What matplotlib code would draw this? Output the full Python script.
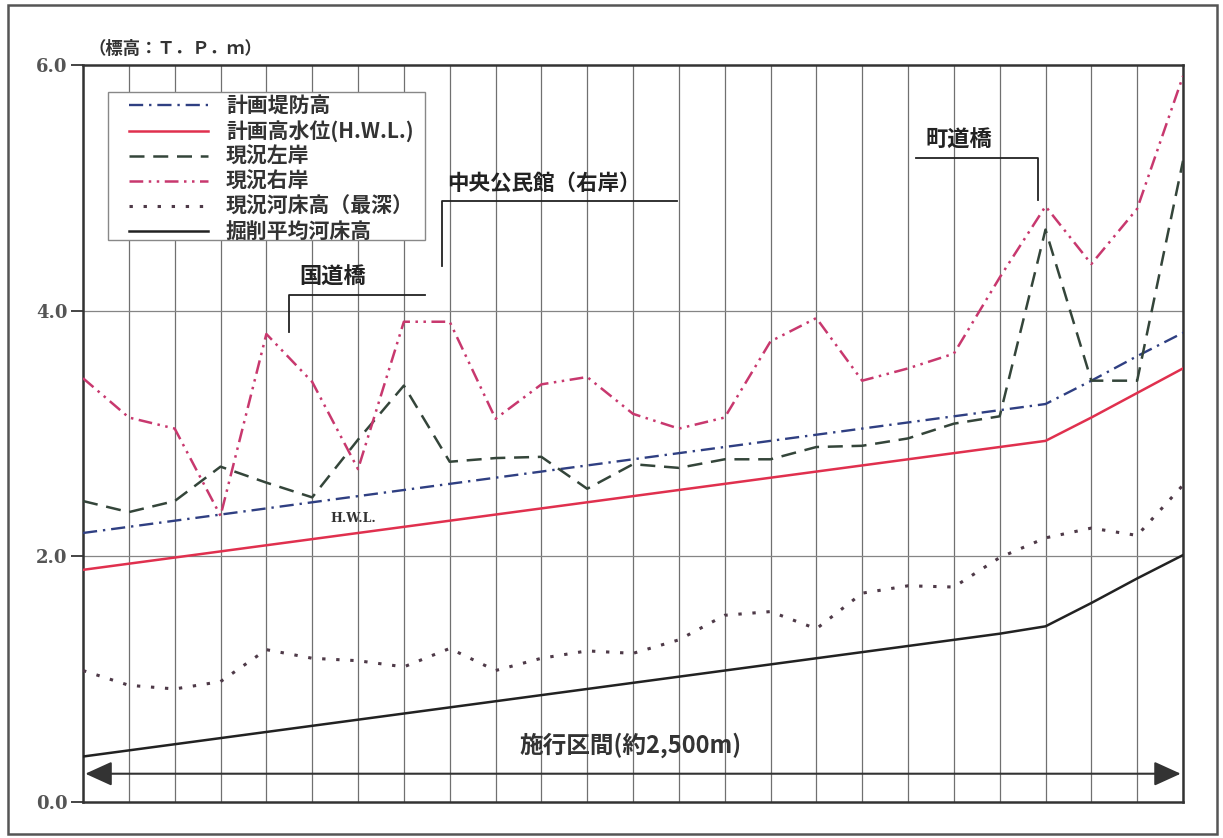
import matplotlib
matplotlib.use('Agg')
import matplotlib.pyplot as plt
from matplotlib.patches import Rectangle

plt.rcParams['font.family'] = ['Noto Sans CJK JP', 'DejaVu Sans']

# 測点 (0〜24)
stations = list(range(25))

# 各系列の標高 (T.P.m)
keikaku_teibou = [2.19, 2.24, 2.29, 2.34, 2.39, 2.44, 2.49, 2.54, 2.59, 2.64, 2.69, 2.74, 2.79,
                  2.84, 2.89, 2.94, 2.99, 3.04, 3.09, 3.14, 3.19, 3.24, 3.43, 3.63, 3.82]
keikaku_hwl = [1.89, 1.94, 1.99, 2.04, 2.09, 2.14, 2.19, 2.24, 2.29, 2.34, 2.39, 2.44, 2.49,
               2.54, 2.59, 2.64, 2.69, 2.74, 2.79, 2.84, 2.89, 2.94, 3.13, 3.33, 3.53]
genkyo_sagan = [2.45, 2.36, 2.45, 2.73, 2.60, 2.48, 2.95, 3.39, 2.77, 2.80, 2.81, 2.55, 2.75,
                2.72, 2.79, 2.79, 2.89, 2.90, 2.96, 3.08, 3.14, 4.66, 3.43, 3.43, 5.22]
genkyo_ugan = [3.45, 3.13, 3.04, 2.33, 3.81, 3.42, 2.71, 3.91, 3.91, 3.12, 3.40, 3.46, 3.16,
               3.04, 3.13, 3.75, 3.94, 3.43, 3.53, 3.65, 4.27, 4.85, 4.38, 4.83, 5.91]
genkyo_kasho = [1.07, 0.95, 0.92, 0.98, 1.24, 1.17, 1.15, 1.10, 1.25, 1.07, 1.17, 1.23, 1.21,
                1.32, 1.52, 1.55, 1.41, 1.70, 1.76, 1.75, 1.99, 2.15, 2.23, 2.17, 2.58]
kussaku_kasho = [0.37, 0.42, 0.47, 0.52, 0.57, 0.62, 0.67, 0.72, 0.77, 0.82, 0.87, 0.92, 0.97,
                 1.02, 1.07, 1.12, 1.17, 1.22, 1.27, 1.32, 1.37, 1.43, 1.62, 1.82, 2.01]

y_ticks = [0.0, 2.0, 4.0, 6.0]
y_tick_labels = ['0.0', '2.0', '4.0', '6.0']

fig = plt.figure(figsize=(12.23, 8.38), dpi=100)
ax = fig.add_axes([0.0679, 0.0430, 0.8994, 0.8794])

# 格子
for s in stations:
    ax.axvline(s, color='#707070', lw=0.9, zorder=1)
for yv in [2.0, 4.0]:
    ax.axhline(yv, color='#858585', lw=0.9, zorder=1)

ax.plot(stations, keikaku_teibou, color='#2f3f82', lw=1.7,
        linestyle=(0, (6, 2.5, 1, 2.5)), label='計画堤防高', zorder=3)
ax.plot(stations, keikaku_hwl, color='#e0304e', lw=1.8, label='計画高水位(H.W.L.)', zorder=3)
ax.plot(stations, genkyo_sagan, color='#34453a', lw=1.8,
        linestyle=(0, (6, 3.5)), label='現況左岸', zorder=3)
ax.plot(stations, genkyo_ugan, color='#c8386e', lw=1.8,
        linestyle=(0, (5.5, 2.2, 1, 2.2, 1, 2.2)), label='現況右岸', zorder=3)
ax.plot(stations, genkyo_kasho, color='#4e3a48', lw=2.2,
        linestyle=(0, (1.1, 3.5)), label='現況河床高（最深）', zorder=3)
ax.plot(stations, kussaku_kasho, color='#222222', lw=1.8, label='掘削平均河床高', zorder=3)

ax.set_xlim(0, 24)
ax.set_ylim(0, 6)
ax.set_xticks([])
ax.set_yticks(y_ticks)
ax.set_yticklabels(y_tick_labels, family='DejaVu Serif', fontsize=13, fontweight='bold',
                   color='#555555')
ax.tick_params(axis='y', length=9, width=1.4, color='#444444', pad=2)
for sp in ax.spines.values():
    sp.set_linewidth(1.8)
    sp.set_color('#333333')

# 凡例
ax.add_patch(Rectangle((0.0227, 0.7626), 0.2882, 0.2008, transform=ax.transAxes,
                       facecolor='white', edgecolor='#888888', lw=1.0, zorder=5))
leg = ax.legend(loc='upper left', bbox_to_anchor=(0.0418, 0.959), borderaxespad=0,
                borderpad=0, frameon=False, prop={'size': 15, 'weight': 'bold'},
                handlelength=3.8, handletextpad=0.85, labelspacing=0.19)
leg.set_zorder(6)
for t in leg.get_texts():
    t.set_color('#333333')

# 注記
c = '#222222'
ax.plot([4.5, 4.5, 7.47], [3.83, 4.13, 4.13], color=c, lw=1.3, zorder=4)
ax.text(5.45, 4.18, '国道橋', fontsize=16, fontweight='bold', ha='center', va='bottom', color=c)
ax.plot([7.83, 7.83, 12.96], [4.36, 4.89, 4.89], color=c, lw=1.3, zorder=4)
ax.text(7.95, 4.95, '中央公民館（右岸）', fontsize=15.5, fontweight='bold', ha='left',
        va='bottom', color=c)
ax.plot([18.18, 20.84, 20.84], [5.24, 5.24, 4.90], color=c, lw=1.3, zorder=4)
ax.text(19.1, 5.29, '町道橋', fontsize=16, fontweight='bold', ha='center', va='bottom', color=c)
ax.text(5.9, 2.31, 'H.W.L.', fontsize=9, family='DejaVu Serif', fontweight='bold',
        ha='center', va='center', color='#333333')
ax.text(0.12, 6.06, '（標高：Ｔ．Ｐ．ｍ）', fontsize=12.5, fontweight='bold', ha='left',
        va='bottom', color='#333333', clip_on=False)

ax.annotate('', xy=(23.95, 0.23), xytext=(0.05, 0.23),
            arrowprops=dict(arrowstyle='<|-|>,head_length=0.55,head_width=0.25',
                            mutation_scale=30, lw=1.5, color='#333333',
                            shrinkA=0, shrinkB=0), zorder=4)
ax.text(11.95, 0.46, '施行区間(約2,500m)', fontsize=17, fontweight='bold', ha='center',
        va='center', color='#333333')

# 外枠
fig.patches.append(Rectangle((8 / 1223, 1 - 834 / 838), 1209 / 1223, 829 / 838,
                             transform=fig.transFigure, fill=False, lw=1.8,
                             edgecolor='#555555'))

fig.savefig('out.png', dpi=100)
